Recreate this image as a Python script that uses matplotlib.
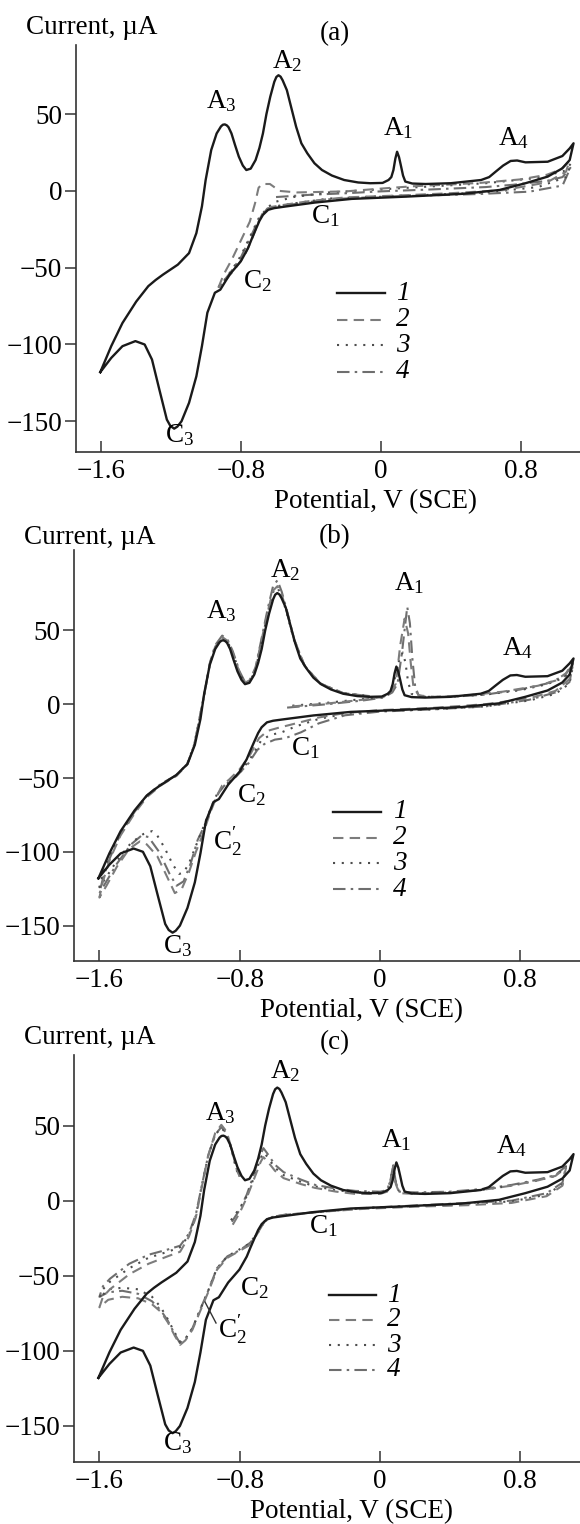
import matplotlib
matplotlib.use('Agg')
import matplotlib.pyplot as plt
from matplotlib.lines import Line2D

plt.rcParams['font.family'] = ['Liberation Serif', 'DejaVu Serif']
plt.rcParams['mathtext.fontset'] = 'custom'
plt.rcParams['mathtext.rm'] = 'Liberation Serif'
plt.rcParams['mathtext.it'] = 'Liberation Serif:italic'

W, H = 580, 1524

# curve 1 (same in every panel): potential in V, current in uA, one closed loop
cv1_v = [-1.606, -1.543, -1.479, -1.40, -1.331, -1.289, -1.247, -1.162, -1.098, -1.056, -1.024,
         -1.003, -0.971, -0.940, -0.915, -0.904, -0.893, -0.882, -0.872, -0.855, -0.835, -0.813,
         -0.790, -0.770, -0.745, -0.717, -0.695, -0.675, -0.655, -0.633, -0.610, -0.598, -0.586,
         -0.574, -0.562, -0.538, -0.510, -0.485, -0.455, -0.421, -0.380, -0.337, -0.280, -0.210,
         -0.130, -0.061, 0.010, 0.044, 0.060, 0.072, 0.083, 0.093, 0.104, 0.114, 0.127, 0.140,
         0.180, 0.256, 0.400, 0.574, 0.620, 0.658, 0.700, 0.743, 0.780, 0.828, 0.955, 1.039,
         1.081, 1.103,
         1.081, 1.039, 0.955, 0.828, 0.679, 0.468, 0.150, -0.167, -0.379, -0.548, -0.610, -0.645,
         -0.675, -0.695, -0.717, -0.740, -0.760, -0.802, -0.866, -0.919, -0.950, -0.993, -1.024,
         -1.056, -1.098, -1.141, -1.165, -1.183, -1.205, -1.225, -1.268, -1.310, -1.352, -1.405,
         -1.479, -1.543, -1.606]
cv1_i = [-118, -101, -86, -72, -62, -58, -54.5, -48, -40.5, -27.5, -10,
         7, 26.6, 37.4, 42, 43.1, 43.3, 42.7, 41.5, 37.4, 30, 22.3,
         16.5, 13.6, 14.5, 20.1, 28, 37.4, 50, 61.3, 71, 74.2, 75.3,
         74.4, 72, 65.6, 53, 41.8, 31, 24.5, 18, 13.6, 10, 7.1,
         5.5, 5.0, 5.2, 7.1, 9, 13.6, 21, 25.5, 22, 16.9, 10, 6.1,
         4.8, 4.5, 5.0, 7.1, 9, 12.6, 16.5, 19.5, 19.8, 18.6, 19.0, 22.7,
         27.7, 31.0,
         20.1, 14.7, 9.3, 5.0, 0.6, -1.9, -3.7, -5.2, -7.6, -10.2, -11.2, -12.3,
         -15.6, -19.5, -25.3, -31.5, -37.2, -45.9, -54.5, -64.3, -66.3, -79.3, -101,
         -120.7, -138, -150, -153.5, -154.8, -153, -148.9, -129.3, -109.8, -100, -97.8,
         -101.1, -108.7, -118]

# panel (a), curves 2-4
a2_v = [-0.93, -0.90, -0.85, -0.80, -0.75, -0.72, -0.70, -0.68, -0.635, -0.58, -0.48, -0.2, 0.0,
        0.18, 0.4, 0.566, 0.8, 0.95, 1.03, 1.08, 1.06, 0.95, 0.7, 0.4, 0.1, -0.2, -0.4, -0.55,
        -0.63, -0.67, -0.70, -0.74, -0.78, -0.83, -0.88, -0.93]
a2_i = [-63, -54.5, -44, -32, -20, -8, 2, 4.5, 4.5, 0, -1.0, -0.3, 1.5,
        3.0, 4.2, 5.2, 7.5, 10.5, 14, 19.5, 12.5, 5.5, 0.5, -1.5, -3, -4.2, -6.5, -9,
        -10.5, -13, -20, -32, -42, -50, -57, -63]
a3_v = [-0.64, -0.60, -0.5, -0.3, 0.0, 0.3, 0.6, 0.9, 1.05, 1.09, 1.06, 0.9, 0.6, 0.3, 0.0,
        -0.3, -0.55, -0.65, -0.70, -0.75, -0.80, -0.85, -0.92]
a3_i = [-10, -7, -4, -1, 1, 3, 5, 8.5, 13, 18, 9, 2.5, -1, -2.5, -3.5,
        -5, -9, -11, -18, -30, -42, -51, -62]
a4_v = [-0.60, -0.4, -0.195, 0.0, 0.3, 0.6, 0.757, 0.95, 1.04, 1.085, 1.04, 0.85, 0.566, 0.2,
        0.0, -0.3, -0.55, -0.65, -0.70, -0.75, -0.80, -0.86, -0.93]
a4_i = [-4, -2.5, -1.5, -0.3, 1, 2.5, 4, 6.5, 9, 15, 3.5, -0.5, -2, -3.2,
        -3.8, -5.5, -9.5, -11.5, -19, -31, -43, -53, -63]

# panel (b), curves 2-4
b2_v = [-0.50, -0.3, -0.1, 0.02, 0.06, 0.09, 0.115, 0.14, 0.16, 0.175, 0.19, 0.22, 0.3, 0.5, 0.7,
        0.9, 1.0, 1.06, 1.10, 1.08, 1.0, 0.85, 0.6, 0.3, 0.0, -0.2, -0.35, -0.48, -0.58, -0.64,
        -0.69, -0.74, -0.80, -0.86, -0.90, -0.93, -0.97, -1.01, -1.05, -1.09, -1.13, -1.17, -1.21,
        -1.27, -1.33, -1.37, -1.43, -1.50, -1.56, -1.60, -1.58, -1.54, -1.48, -1.40, -1.33, -1.25,
        -1.16, -1.10, -1.06, -1.03, -1.0, -0.97, -0.94, -0.90, -0.87, -0.84, -0.80, -0.77, -0.74,
        -0.71, -0.68, -0.64, -0.61, -0.585, -0.56, -0.53, -0.49, -0.43, -0.34, -0.21, -0.06]
b2_i = [-1.5, 0.5, 3, 5, 8, 14, 40, 58, 48, 28, 12, 6, 5, 6, 8.5,
        12.5, 16, 21, 28, 17, 9, 4, 0, -2.5, -4, -6, -9, -13, -16, -18,
        -23, -34, -44, -51, -55, -62, -74, -88, -100, -114, -125, -128, -118,
        -103, -95, -93, -98, -110, -123, -131, -120, -105, -89, -74, -63, -55,
        -48.5, -41, -28, -10, 8, 28, 39, 45.5, 43, 35, 21, 14.5, 16.5,
        24, 41, 63, 77, 80, 74, 62, 44, 26, 14, 7.5, 5.5]
b3_v = [-0.50, -0.3, -0.1, 0.02, 0.06, 0.09, 0.115, 0.13, 0.145, 0.16, 0.18, 0.22, 0.4, 0.6, 0.8,
        0.95, 1.05, 1.10, 1.08, 1.0, 0.85, 0.6, 0.3, 0.0, -0.2, -0.35, -0.48, -0.56, -0.63, -0.68,
        -0.73, -0.79, -0.85, -0.90, -0.93, -0.97, -1.01, -1.05, -1.09, -1.12, -1.145, -1.18, -1.23,
        -1.27, -1.30, -1.35, -1.42, -1.50, -1.56, -1.60, -1.58, -1.54, -1.48, -1.40, -1.33, -1.25,
        -1.16, -1.10, -1.06, -1.03, -1.0, -0.97, -0.94, -0.90, -0.87, -0.84, -0.80, -0.77, -0.74,
        -0.71, -0.68, -0.64, -0.61, -0.585, -0.56, -0.53, -0.49, -0.43, -0.34, -0.21, -0.06]
b3_i = [-1, 1, 3.5, 5, 8, 20, 33, 35, 28, 15, 7, 5, 5, 6.5, 9.5,
        13.5, 18, 26, 14, 7, 2.5, -1.5, -3.5, -4.5, -6.5, -10, -15, -19, -21, -25,
        -35, -45, -52, -56, -61, -72, -84, -96, -108, -114, -115, -109, -97,
        -89, -86, -88, -94, -106, -117, -124, -115, -102, -87, -72.5, -62, -54.5,
        -48, -40.5, -27.5, -10, 8, 27.5, 39, 45, 42.5, 35, 21, 14, 16,
        23, 40, 62, 76, 79, 73, 61, 43, 25.5, 14, 7.5, 5.5]
b4_v = [-0.53, -0.3, -0.1, 0.02, 0.07, 0.10, 0.125, 0.155, 0.17, 0.185, 0.20, 0.22, 0.26, 0.4, 0.6,
        0.8, 0.95, 1.05, 1.10, 1.08, 1.0, 0.85, 0.6, 0.3, 0.0, -0.2, -0.35, -0.45, -0.54, -0.60,
        -0.66, -0.70, -0.75, -0.82, -0.88, -0.92, -0.96, -1.0, -1.04, -1.08, -1.12, -1.16, -1.20,
        -1.26, -1.32, -1.36, -1.42, -1.50, -1.56, -1.60, -1.58, -1.54, -1.48, -1.40, -1.33, -1.25,
        -1.16, -1.10, -1.06, -1.03, -1.0, -0.97, -0.94, -0.90, -0.87, -0.84, -0.80, -0.77, -0.74,
        -0.71, -0.68, -0.64, -0.61, -0.585, -0.56, -0.53, -0.49, -0.43, -0.34, -0.21, -0.06]
b4_i = [-2.3, 0, 2.5, 4.5, 8, 14, 35, 66, 55, 30, 12, 6, 5, 5, 6.5,
        10, 14, 19, 27, 15, 8, 3, -1.5, -3.5, -5, -7.5, -13, -19, -23, -24,
        -27, -31, -40, -49, -54, -60, -70, -82, -92, -108, -120, -123, -115,
        -100, -90, -89, -95, -108, -120, -128, -118, -104, -88, -73, -62, -54,
        -48, -41, -28, -10, 8, 28, 40, 46.5, 44, 36, 22, 15, 17,
        25, 42, 65, 80, 84, 76, 63, 44, 26, 14, 7.5, 5.5]

# panel (c), curves 2-4
c2_v = [-0.84, -0.80, -0.76, -0.73, -0.70, -0.68, -0.665, -0.64, -0.60, -0.55, -0.45, -0.37, -0.25,
        -0.14, 0.0, 0.04, 0.06, 0.075, 0.09, 0.11, 0.2, 0.4, 0.6, 0.75, 0.9, 1.0, 1.06, 1.04, 0.95,
        0.75, 0.5, 0.2, -0.1, -0.35, -0.55, -0.62, -0.66, -0.70, -0.75, -0.81, -0.87, -0.93, -0.98,
        -1.02, -1.07, -1.11, -1.14, -1.17, -1.21, -1.25, -1.30, -1.38, -1.47, -1.55, -1.60, -1.58,
        -1.54, -1.43, -1.32, -1.21, -1.14, -1.09, -1.05, -1.02, -0.98, -0.94, -0.905, -0.875, -0.845,
        -0.82, -0.80]
c2_i = [-16, -8, 2, 11, 20, 26, 29, 26, 20, 15, 11, 8.5, 6,
        4.5, 4.5, 6, 13, 23, 11, 5, 4.5, 5.5, 7.5, 10, 13.5, 16.5, 22, 10, 3,
        -1.5, -3, -4, -5.5, -7.5, -9.5, -11, -14, -22, -30, -34, -38, -46, -61,
        -72, -86, -93, -96, -90, -81, -74, -69, -65, -64, -66, -71, -64,
        -59, -49, -42, -37, -34, -24, -11, 7, 30, 45, 50.5, 46, 34,
        22, 16]
c3_v = [-0.85, -0.80, -0.76, -0.73, -0.70, -0.68, -0.665, -0.64, -0.60, -0.55, -0.45, -0.37, -0.25,
        -0.14, 0.0, 0.04, 0.06, 0.075, 0.09, 0.11, 0.2, 0.4, 0.6, 0.75, 0.9, 1.0, 1.06, 1.04, 0.95,
        0.75, 0.5, 0.2, -0.1, -0.35, -0.55, -0.62, -0.66, -0.70, -0.75, -0.81, -0.87, -0.93, -0.98,
        -1.02, -1.07, -1.11, -1.14, -1.17, -1.21, -1.25, -1.30, -1.38, -1.47, -1.55, -1.60, -1.58,
        -1.54, -1.43, -1.32, -1.21, -1.14, -1.09, -1.05, -1.02, -0.98, -0.94, -0.905, -0.875, -0.845,
        -0.82, -0.80]
c3_i = [-13, -5, 3, 12, 22, 28.5, 32, 29, 22, 17, 12.5, 9.5, 7,
        5.5, 5.5, 6.5, 13.5, 23.5, 11.5, 5.5, 5, 5.5, 7.5, 10, 13.5, 16.5, 22.5, 11, 4,
        -0.5, -2, -3.5, -5, -7.5, -9.5, -11, -14, -22, -29, -33, -37, -45, -60,
        -71, -85, -92, -94, -88, -79, -71, -64, -59, -58, -59, -65, -59,
        -54, -45, -38, -34, -31, -23, -10, 8, 30, 44, 48.5, 44.5, 33,
        21, 15]
c4_v = [-0.845, -0.80, -0.76, -0.73, -0.70, -0.68, -0.665, -0.64, -0.60, -0.55, -0.45, -0.37, -0.25,
        -0.14, 0.0, 0.04, 0.06, 0.075, 0.09, 0.11, 0.2, 0.4, 0.6, 0.75, 0.9, 1.0, 1.06, 1.04, 0.95,
        0.75, 0.5, 0.2, -0.1, -0.35, -0.55, -0.62, -0.66, -0.70, -0.74, -0.80, -0.87, -0.93, -0.98,
        -1.02, -1.07, -1.11, -1.14, -1.17, -1.21, -1.25, -1.30, -1.38, -1.47, -1.55, -1.60, -1.58,
        -1.54, -1.43, -1.32, -1.21, -1.14, -1.09, -1.05, -1.02, -0.98, -0.94, -0.905, -0.875, -0.845,
        -0.82, -0.80]
c4_i = [-14, -6, 4, 14, 25, 31, 35, 31, 24, 19, 14, 10.5, 8,
        6.5, 6, 7, 14, 24, 12, 6, 5.5, 6, 8, 10.5, 14, 17, 23, 12, 5,
        0, -1.5, -3.2, -5, -7.5, -9.5, -11, -14, -22, -28, -33, -37, -45, -60,
        -71, -85, -92, -95, -89, -80, -73, -67, -62, -60, -61, -64, -57,
        -52, -42, -36, -32.5, -30, -22, -9, 8, 30, 44, 49, 45, 34,
        22, 16]

xticks = [-1.6, -0.8, 0, 0.8]
xtick_labels = ['\u22121.6', '\u22120.8', '0', '0.8']
yticks = [-150, -100, -50, 0, 50]
ytick_labels = ['\u2212150', '\u2212100', '\u221250', '0', '50']
legend_labels = ['1', '2', '3', '4']

styles = [dict(color='#1a1a1a', lw=1.7, ls='-'),
          dict(color='#7c7c7c', lw=1.5, ls=(0, (5, 3))),
          dict(color='#4d4d4d', lw=1.5, ls=(0, (1, 3.2))),
          dict(color='#6e6e6e', lw=1.5, ls=(0, (6, 2.5, 1.2, 2.5)))]

FS = 19.5


def fx(x):
    return x / W


def fy(y):
    return 1 - y / H


fig = plt.figure(figsize=(W / 100, H / 100), dpi=100)

panels = [
    dict(tag='(a)', box=(76, 45, 452), ylim=(-170, 95),
         curves=[(cv1_v, cv1_i), (a2_v, a2_i), (a3_v, a3_i), (a4_v, a4_i)],
         head_y=28, tag_y=34, xl=(375, 502), leg_x=(337, 385, 396), leg_y=[293, 320, 345, 372],
         labels=[('A$_2$', 272, 68), ('A$_3$', 206, 108), ('A$_1$', 383, 135), ('A$_4$', 498, 145),
                 ('C$_1$', 311, 223), ('C$_2$', 243, 288), ('C$_3$', 165, 442)]),
    dict(tag='(b)', box=(74, 550, 961), ylim=(-174, 104.5),
         curves=[(cv1_v, cv1_i), (b2_v, b2_i), (b3_v, b3_i), (b4_v, b4_i)],
         head_y=537, tag_y=537, xl=(362, 1011), leg_x=(333, 381, 393), leg_y=[812, 838, 863, 889],
         labels=[('A$_2$', 270, 577), ('A$_3$', 206, 618), ('A$_1$', 394, 590), ('A$_4$', 502, 655),
                 ('C$_1$', 291, 755), ('C$_2$', 237, 802), (r'$\mathrm{C}^{\prime}_{2}$', 213, 850),
                 ('C$_3$', 163, 953)]),
    dict(tag='(c)', box=(74, 1055, 1462), ylim=(-174, 97),
         curves=[(cv1_v, cv1_i), (c2_v, c2_i), (c3_v, c3_i), (c4_v, c4_i)],
         head_y=1037, tag_y=1043, xl=(351, 1512), leg_x=(329, 376, 387), leg_y=[1295, 1320, 1345, 1370],
         labels=[('A$_2$', 270, 1078), ('A$_3$', 205, 1120), ('A$_1$', 381, 1147), ('A$_4$', 496, 1153),
                 ('C$_1$', 309, 1233), ('C$_2$', 240, 1295), (r'$\mathrm{C}^{\prime}_{2}$', 218, 1338),
                 ('C$_3$', 163, 1450)]),
]

for p in panels:
    left, top, bottom = p['box']
    ax = fig.add_axes([fx(left), fy(bottom), 1 - fx(left), (bottom - top) / H])
    for (v, i), st in zip(reversed(p['curves']), reversed(styles)):
        ax.plot(v, i, color=st['color'], lw=st['lw'], ls=st['ls'],
                solid_joinstyle='round', dash_joinstyle='round')

    ax.set_xlim(-1.745, 1.14)
    ax.set_ylim(*p['ylim'])
    ax.set_xticks(xticks)
    ax.set_xticklabels(xtick_labels)
    ax.set_yticks(yticks)
    ax.set_yticklabels(ytick_labels)
    for s in ['top', 'right']:
        ax.spines[s].set_visible(False)
    for s in ['left', 'bottom']:
        ax.spines[s].set_linewidth(1.2)
        ax.spines[s].set_color('#333333')
    ax.tick_params(axis='y', direction='out', length=8, width=1.1, pad=2,
                   labelsize=FS, color='#333333')
    ax.tick_params(axis='x', direction='in', length=8, width=1.1, pad=5,
                   labelsize=FS, color='#333333')

    # legend drawn row by row
    x0, x1, xt = p['leg_x']
    for st, lab, y in zip(styles, legend_labels, p['leg_y']):
        fig.add_artist(Line2D([fx(x0), fx(x1)], [fy(y), fy(y)], color=st['color'],
                              lw=st['lw'], ls=st['ls']))
        fig.text(fx(xt), fy(y), lab, fontsize=FS, style='italic', ha='left', va='center')

    fig.text(fx(left - 50), fy(p['head_y']), 'Current, \u00b5A', fontsize=FS,
             ha='left', va='center')
    fig.text(fx(335), fy(p['tag_y']), p['tag'], fontsize=FS, ha='center', va='center')
    fig.text(fx(p['xl'][0]), fy(p['xl'][1]), 'Potential, V (SCE)', fontsize=FS,
             ha='center', va='center')
    for txt, x, y in p['labels']:
        fig.text(fx(x), fy(y), txt, fontsize=FS, ha='left', va='baseline')

# leader line for C'2 in panel (c)
fig.add_artist(Line2D([fx(205), fx(216)], [fy(1302), fy(1323)], color='#333333', lw=1.0))

fig.savefig('out.png', dpi=100)
